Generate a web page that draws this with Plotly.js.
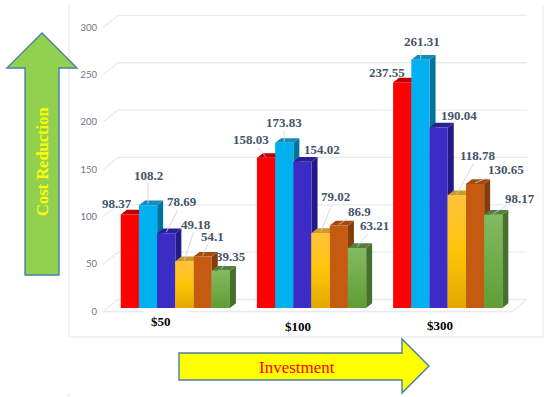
<!DOCTYPE html>
<html><head><meta charset="utf-8">
<script src="https://cdn.plot.ly/plotly-3.0.1.min.js"></script>
<style>html,body{margin:0;padding:0;background:#fff}#c{width:550px;height:397px}</style>
</head><body><div id="c"></div>
<script>
const categories = ['$50', '$100', '$300'];
const red = [98.37, 158.03, 237.55];
const skyBlue = [108.2, 173.83, 261.31];
const darkBlue = [78.69, 154.02, 190.04];
const yellow = [49.18, 79.02, 118.78];
const orange = [54.1, 86.9, 130.65];
const green = [39.35, 63.21, 98.17];
const tickValues = [0, 50, 100, 150, 200, 250, 300];
const xTitle = 'Investment';
const yTitle = 'Cost Reduction';

const series = [red, skyBlue, darkBlue, yellow, orange, green];
const frontColors = ['#FF0000', '#00B0F0', '#3A2CC4', '#FFC000', '#C55A11', '#69A53F'];
const topColors = ['#C00000', '#0F8DBB', '#2A2095', '#C99A2E', '#A34A0C', '#557F3D'];
const sideColors = ['#A00000', '#00749E', '#241A85', '#A07A10', '#843C0C', '#47702F'];
const gradients = {
  3: [[0, '#E2A800'], [0.5, '#FFC408'], [1, '#FFC23E']],
  5: [[0, '#5E9E34'], [1, '#84BA62']]
};
// Label centres on the page, one row per series, one column per category
const labelX = [[117, 251, 387], [148, 284, 422], [182, 322, 459], [196, 335, 478], [212, 359, 506], [231, 374, 520]];
const labelY = [[203, 140, 72], [175, 123, 41], [202, 150, 116], [224, 197, 155], [236, 211, 170], [256, 226, 198]];
const hasLeader = [[0, 1, 0], [1, 1, 1], [1, 0, 0], [1, 1, 1], [1, 1, 1], [1, 1, 1]];

// Page geometry of the drawing
const W = 550, H = 397;
const period = 136.2, barPx = 18.2, firstCentre = 175.35;
const depthX = 6 / period, barW = barPx / period;
const pxPerUnit = 0.95, floorPx = 308;
const depthY = 4.7 / pxPerUnit;
const xRange = [-firstCentre / period, (W - firstCentre) / period];
const barRange = [floorPx - H, floorPx].map(p => p / pxPerUnit);
const tickScale = 0.947, tickFloor = 311.5;
const tickRange = [(tickFloor - H) / tickScale, tickFloor / tickScale];
const xOf = px => (px - firstCentre) / period;

const traces = [];
// Walls: gridlines on the axis that carries the tick labels
const gx = [], gy = [];
const rise = 12 / tickScale;
tickValues.forEach(v => {
  gx.push(xOf(103), xOf(118), xOf(527), null);
  gy.push(v, v + rise, v + rise, null);
});
gx.push(xOf(103), xOf(143), null, xOf(188), xOf(512), xOf(527));
gy.push(0, 0, null, 0, 0, rise);
traces.push({type: 'scatter', mode: 'lines', x: gx, y: gy, xaxis: 'x', yaxis: 'y',
  line: {color: '#E8EBF2', width: 1.3}, hoverinfo: 'skip', showlegend: false});

// Side and top faces, painted left to right beneath the front faces
categories.forEach((c, g) => {
  series.forEach((vals, s) => {
    const left = g + (s - 3) * barW, right = left + barW, v = vals[g];
    traces.push({type: 'scatter', mode: 'lines', xaxis: 'x', yaxis: 'y2', fill: 'toself',
      x: [right, right + depthX, right + depthX, right, right],
      y: [0, depthY, v + depthY, v, 0],
      fillcolor: sideColors[s], line: {width: 0}, hoverinfo: 'skip', showlegend: false});
    traces.push({type: 'scatter', mode: 'lines', xaxis: 'x', yaxis: 'y2', fill: 'toself',
      x: [left, right, right + depthX, left + depthX, left],
      y: [v, v, v + depthY, v + depthY, v],
      fillcolor: topColors[s], line: {width: 0}, hoverinfo: 'skip', showlegend: false});
  });
});

// Front faces: real bars
series.forEach((vals, s) => {
  traces.push({type: 'bar', x: categories.map((c, i) => i), y: vals, xaxis: 'x', yaxis: 'y3',
    marker: {color: frontColors[s], line: {width: 0}}, hoverinfo: 'skip', showlegend: false});
});
// Gradient overlays for the yellow and green front faces
Object.keys(gradients).forEach(key => {
  const s = +key;
  categories.forEach((c, g) => {
    const left = g + (s - 3) * barW, right = left + barW, v = series[s][g];
    traces.push({type: 'scatter', mode: 'lines', xaxis: 'x', yaxis: 'y3', fill: 'toself',
      x: [left, right, right, left, left], y: [0, 0, v, v, 0],
      fillgradient: {type: 'vertical', colorscale: gradients[s]},
      line: {width: 0}, hoverinfo: 'skip', showlegend: false});
  });
});

// Value labels with leader lines
const annotations = [];
series.forEach((vals, s) => {
  vals.forEach((v, g) => {
    const cx = firstCentre + period * (g + (s - 2.5) * barW);
    const ty = floorPx - pxPerUnit * v - 1;
    annotations.push({
      x: g + (s - 2.5) * barW, y: v + 1 / pxPerUnit, xref: 'x', yref: 'y3',
      text: String(v), showarrow: true, arrowhead: 0, arrowwidth: 0.8,
      arrowcolor: hasLeader[s][g] ? '#C9D0DC' : 'rgba(0,0,0,0)',
      ax: labelX[s][g] - cx, ay: labelY[s][g] - ty,
      font: {family: 'Liberation Serif', size: 13, color: '#44546A', weight: 700},
      borderpad: 0
    });
  });
});
// Category labels
const catPx = [[161, 321], [298, 326], [440, 325]];
categories.forEach((c, i) => {
  annotations.push({x: xOf(catPx[i][0]), y: 1 - catPx[i][1] / H, xref: 'x', yref: 'paper',
    text: '<b>' + c + '</b>', showarrow: false, xanchor: 'center', yanchor: 'middle',
    font: {family: 'Liberation Serif', size: 13, color: '#000000'}});
});
// Titles sitting on the arrows
annotations.push({x: 297 / W, y: 1 - 367 / H, xref: 'paper', yref: 'paper', text: xTitle, showarrow: false,
  xanchor: 'center', yanchor: 'middle', font: {family: 'Liberation Serif', size: 17, color: '#FF0000'}});
annotations.push({x: 42 / W, y: 1 - 162 / H, xref: 'paper', yref: 'paper', text: '<b>' + yTitle + '</b>', showarrow: false,
  textangle: -90, xanchor: 'center', yanchor: 'middle',
  font: {family: 'Liberation Serif', size: 16.5, color: '#FFFF00'}});

const P = (x, y) => (x / W).toFixed(4) + ',' + (1 - y / H).toFixed(4);
const poly = pts => 'M' + pts.map(p => P(p[0], p[1])).join(' L') + ' Z';
const arrowLine = '#4A7EA8';
const shapes = [
  {type: 'path', xref: 'paper', yref: 'paper', layer: 'below',
   path: 'M' + P(69, 5) + ' L' + P(69, 337) + ' L' + P(543, 337) + ' L' + P(543, 5),
   line: {color: '#ECEFF4', width: 1.5}},
  {type: 'path', xref: 'paper', yref: 'paper', layer: 'above',
   path: poly([[42, 33], [77, 68], [59, 68], [59, 275], [25, 275], [25, 68], [7, 68]]),
   fillcolor: '#92D050', line: {color: arrowLine, width: 1.4}},
  {type: 'path', xref: 'paper', yref: 'paper', layer: 'above',
   path: poly([[179, 353], [402, 353], [402, 339], [429, 366], [402, 393], [402, 380], [179, 380]]),
   fillcolor: '#FFFF00', line: {color: arrowLine, width: 1.4}},
  {type: 'rect', xref: 'paper', yref: 'paper', layer: 'above',
   x0: 68.5 / W, x1: 69.5 / W, y0: 1 - 396 / H, y1: 1 - 395 / H,
   fillcolor: '#9AA0A8', line: {width: 0}}
];

const hiddenY = range => ({range, domain: [0, 1], visible: false, anchor: 'x', fixedrange: true});
Plotly.newPlot('c', traces, {
  width: W, height: H,
  margin: {l: 0, r: 0, t: 0, b: 0, pad: 0},
  paper_bgcolor: '#FFFFFF', plot_bgcolor: 'rgba(0,0,0,0)',
  barmode: 'group', bargap: 0.198, bargroupgap: 0,
  showlegend: false,
  xaxis: {range: xRange, domain: [0, 1], visible: false, fixedrange: true},
  yaxis: {range: tickRange, domain: [0, 1], anchor: 'free', position: 97 / W, side: 'left',
    tickmode: 'array', tickvals: tickValues, ticks: '', showgrid: false, zeroline: false, showline: false,
    tickfont: {family: 'Lato', size: 9.5, color: '#6B7688'}, fixedrange: true},
  yaxis2: hiddenY(barRange),
  yaxis3: hiddenY(barRange),
  shapes, annotations
}, {staticPlot: true, displayModeBar: false});
</script></body></html>
